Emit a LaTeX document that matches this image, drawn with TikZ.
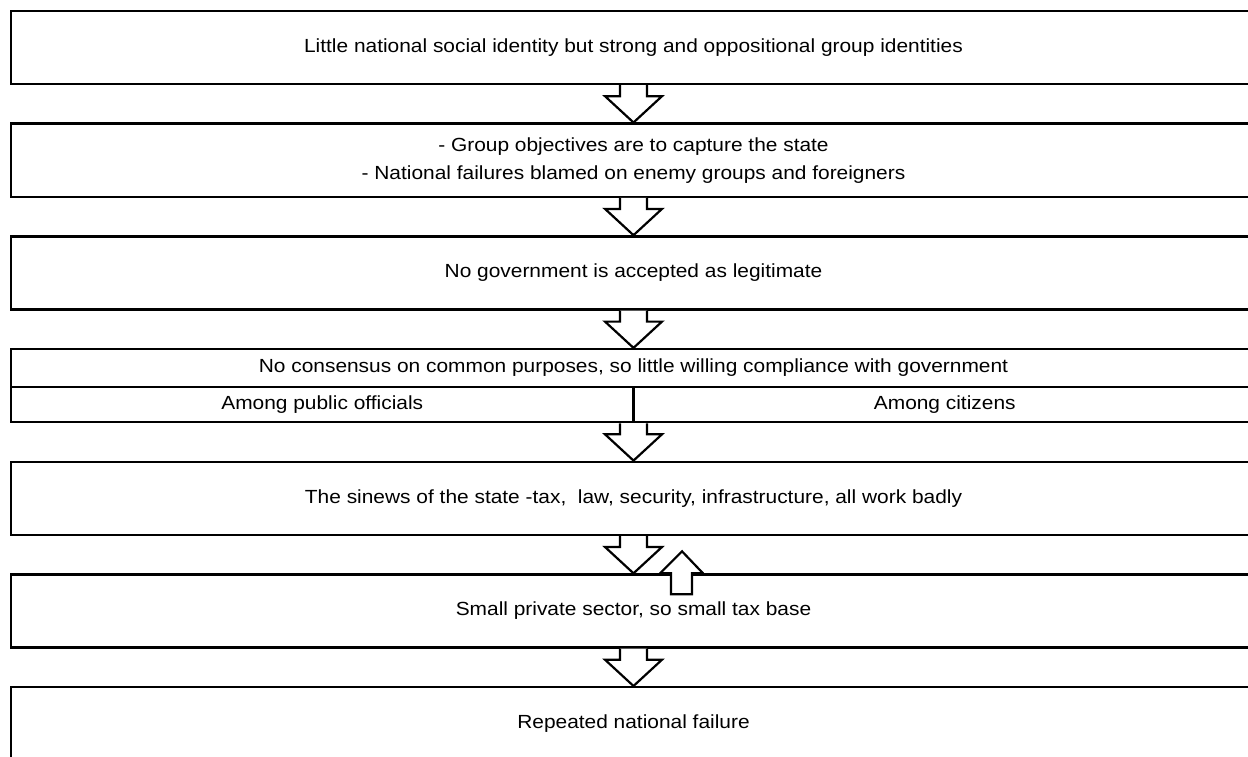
\documentclass[tikz,border=0pt]{standalone}
\usepackage{fontspec}
\setmainfont{Liberation Sans}[FakeStretch=1.1]
\usetikzlibrary{calc}
\tikzstyle{stage} = [draw, rectangle, line width=2.4pt, text centered, align=center, minimum width=1245pt, minimum height=73pt, inner sep=0pt]
\tikzstyle{half} = [draw, rectangle, line width=2.4pt, text centered, minimum width=622.5pt, minimum height=35pt, inner sep=0pt]
\tikzstyle{hollow} = [draw, line width=2.2pt, fill=white, miter limit=4]
% block arrow from the bottom of one box down to the top of the next
\newcommand{\flowarrow}[2]{%
  \path[hollow] ($(#1.south)+(-13.5,0)$) -- ++(0,-11) -- ++(-15,0) -- (#2.north)
    -- ($(#1.south)+(28.5,-11)$) -- ++(-15,0) -- ++(0,11);}

\begin{document}
\begin{tikzpicture}[x=1pt, y=1pt, node distance=112.7pt, font=\fontsize{19}{28}\selectfont]
    \useasboundingbox (0,0) rectangle (1248,-757);
    \clip (0,0) rectangle (1248,-757);
        \node[stage] (identity) at (633.5,-47.5) {Little national social identity but strong and oppositional group identities};
        \node[stage, below of=identity] (capture) {- Group objectives are to capture the state\\- National failures blamed on enemy groups and foreigners};
        \node[stage, below of=capture] (legitimacy) {No government is accepted as legitimate};
        \node[stage, below of=legitimacy] (consensus) {};
        \node[half, anchor=south west] (officials) at (consensus.south west) {Among public officials};
        \node[half, anchor=south east] (citizens) at (consensus.south east) {Among citizens};
        \node[anchor=north, minimum height=38pt, inner sep=0pt] (purposes) at (consensus.north) {No consensus on common purposes, so little willing compliance with government};
        \node[stage, below of=consensus] (sinews) {The sinews of the state -tax, \ law, security, infrastructure, all work badly};
        \node[stage, below of=sinews] (sector) {Small private sector, so small tax base};
        \node[stage, below of=sector] (failure) {Repeated national failure};
        \coordinate (feedback) at ($(sector.north)+(48.5,22)$);
        \flowarrow{identity}{capture}
        \flowarrow{capture}{legitimacy}
        \flowarrow{legitimacy}{consensus}
        \flowarrow{consensus}{sinews}
        \flowarrow{sinews}{sector}
        \flowarrow{sector}{failure}
        \path[hollow] ($(sector.north)+(37.5,-21)$) -- ++(0,21) -- ++(-11,0) -- (feedback)
            -- ($(sector.north)+(69.5,0)$) -- ++(-11,0) -- ++(0,-21) -- cycle;
    \end{tikzpicture}
\end{document}
